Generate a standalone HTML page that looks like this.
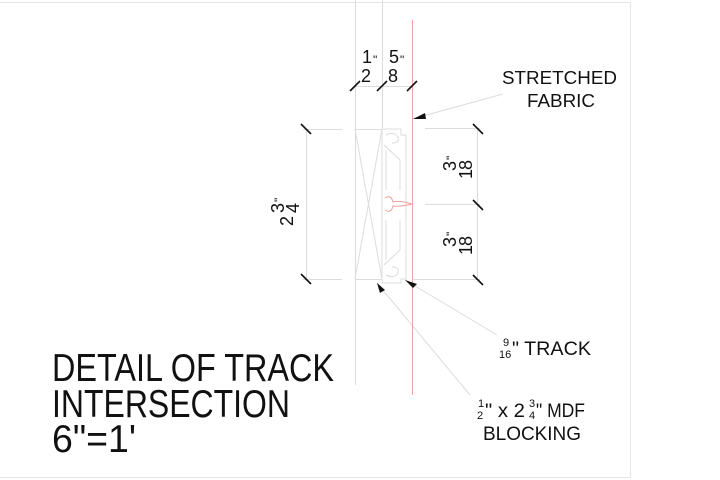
<!DOCTYPE html>
<html><head><meta charset="utf-8"><style>
html,body{margin:0;padding:0;background:#fff;}
svg{display:block;}
text{font-family:"Liberation Sans",Arial,sans-serif;fill:#111;}
</style></head><body>
<svg width="720" height="480" viewBox="0 0 720 480" xmlns="http://www.w3.org/2000/svg">
<polyline points="0,2.5 630.5,2.5 630.5,477.5 0,477.5" fill="none" stroke="#e4e4e4" stroke-width="1"/>
<g stroke="#dcdcdc" stroke-width="1" fill="none">
<line x1="355.5" y1="0" x2="355.5" y2="385"/>
<line x1="382.5" y1="0" x2="382.5" y2="128"/>
<line x1="355" y1="86.5" x2="412" y2="86.5"/>
<line x1="306.5" y1="129" x2="306.5" y2="279"/>
<line x1="303" y1="129.5" x2="342" y2="129.5"/>
<line x1="303" y1="279.5" x2="342" y2="279.5"/>
<line x1="355" y1="129.5" x2="382" y2="129.5"/>
<line x1="355" y1="279.5" x2="382" y2="279.5"/>
<line x1="355" y1="129" x2="382" y2="279"/>
<line x1="382" y1="129" x2="355" y2="279"/>
<line x1="425" y1="128.5" x2="480" y2="128.5"/>
<line x1="425" y1="204.5" x2="480" y2="204.5"/>
<line x1="412" y1="279.5" x2="480" y2="279.5"/>
<line x1="477.5" y1="128" x2="477.5" y2="280"/>
<path d="M382,129 L401,129 L401,135 L406,135 L406,279 L401,279 L401,283 L382,283 Z"/>
<path d="M386,135 q8,-4 12,2 q2,6 -6,6 M386,275 q8,4 12,-2 q2,-6 -6,-6"/>
<path d="M384,145 L400,160 L400,190 M384,265 L400,250 L400,220"/>
<path d="M386,150 L386,190 M386,260 L386,220"/>
<line x1="412" y1="119" x2="503" y2="94"/>
<line x1="405" y1="280" x2="497" y2="335"/>
<line x1="377" y1="283" x2="470" y2="395"/>
</g>
<line x1="412.5" y1="20" x2="412.5" y2="395" stroke="#f4a0a0" stroke-width="1"/>
<path d="M385,198 q6,-4 8,4 q6,-2 19,2 q-13,3 -19,2 q-2,8 -8,4" fill="none" stroke="#f0a0a0" stroke-width="1"/>
<g stroke="#111" stroke-width="1.6">
<line x1="350" y1="91" x2="360" y2="81"/>
<line x1="377" y1="91" x2="387" y2="81"/>
<line x1="407" y1="91" x2="417" y2="81"/>
<line x1="301" y1="124" x2="311" y2="134"/>
<line x1="301" y1="274" x2="311" y2="284"/>
<line x1="473" y1="124" x2="483" y2="134"/>
<line x1="473" y1="200" x2="483" y2="210"/>
<line x1="473" y1="275" x2="483" y2="285"/>
</g>
<g fill="#111">
<polygon points="413,119 425,113 426,119"/>
<polygon points="405,280 413,288 417,284"/>
<polygon points="377,283 380,293 385,290"/>
</g>
<text x="362" y="63" font-size="18">1</text><text x="373" y="64" font-size="12">"</text>
<text x="361" y="82" font-size="18">2</text>
<text x="389" y="63" font-size="18">5</text><text x="400" y="64" font-size="12">"</text>
<text x="388" y="82" font-size="18">8</text>
<!-- 2 3/4 rotated -->
<g transform="translate(285,226) rotate(-90)">
<text x="0" y="8" font-size="18">2</text>
<text x="13" y="-1" font-size="18">3</text>
<text x="13" y="14" font-size="18">4</text>
<text x="24" y="-2" font-size="12">"</text>
</g>
<!-- 1 3/8 rotated -->
<g transform="translate(458,178) rotate(-90)">
<text x="-1" y="14" font-size="18">1</text>
<text x="8" y="14" font-size="18">8</text>
<text x="7" y="-2" font-size="18">3</text>
<text x="18" y="-3" font-size="12">"</text>
</g>
<g transform="translate(458,254) rotate(-90)">
<text x="-1" y="14" font-size="18">1</text>
<text x="8" y="14" font-size="18">8</text>
<text x="7" y="-2" font-size="18">3</text>
<text x="18" y="-3" font-size="12">"</text>
</g>
<text x="502" y="84" font-size="18" textLength="115" lengthAdjust="spacingAndGlyphs">STRETCHED</text>
<text x="527" y="107" font-size="18" textLength="68" lengthAdjust="spacingAndGlyphs">FABRIC</text>
<text x="503" y="346" font-size="11">9</text>
<text x="499" y="358" font-size="11">16</text>
<text x="512" y="355" font-size="19" textLength="79" lengthAdjust="spacingAndGlyphs">" TRACK</text>
<text x="478" y="407" font-size="11">1</text>
<text x="477" y="419" font-size="11">2</text>
<text x="485" y="417" font-size="19" textLength="40" lengthAdjust="spacingAndGlyphs">" x 2</text>
<text x="529" y="407" font-size="11">3</text>
<text x="529" y="419" font-size="11">4</text>
<text x="536" y="417" font-size="19" textLength="49" lengthAdjust="spacingAndGlyphs">" MDF</text>
<text x="483" y="440" font-size="19" textLength="98" lengthAdjust="spacingAndGlyphs">BLOCKING</text>
<text x="52" y="381" font-size="39" textLength="282" lengthAdjust="spacingAndGlyphs">DETAIL OF TRACK</text>
<text x="52" y="417" font-size="39" textLength="238" lengthAdjust="spacingAndGlyphs">INTERSECTION</text>
<text x="52" y="452" font-size="39" textLength="84" lengthAdjust="spacingAndGlyphs">6"=1'</text>
</svg>
</body></html>
